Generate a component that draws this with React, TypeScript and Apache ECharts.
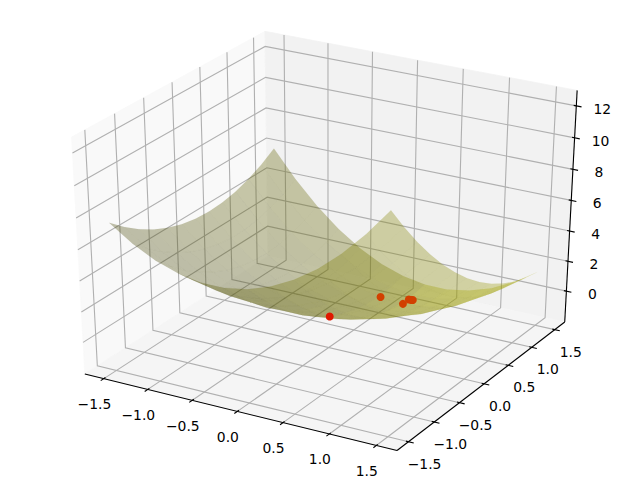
import React, { useEffect, useRef } from "react";
import * as echarts from "echarts";

const xLim = [-1.65, 1.65];
const yLim = [-1.65, 1.65];
const zLim = [-1.8, 12.66];
const xTicks = [-1.5, -1.0, -0.5, 0.0, 0.5, 1.0, 1.5];
const yTicks = [-1.5, -1.0, -0.5, 0.0, 0.5, 1.0, 1.5];
const zTicks = [0, 2, 4, 6, 8, 10, 12];

const gridX = [-1.5, -1.25, -1, -0.75, -0.5, -0.25, 0, 0.25, 0.5, 0.75, 1, 1.25, 1.5];
const gridY = [-1.5, -1.25, -1, -0.75, -0.5, -0.25, 0, 0.25, 0.5, 0.75, 1, 1.25, 1.5];
// one row per gridX value, one column per gridY value
const surfaceZ = [
  [7.5, 6.69, 6, 5.44, 5, 4.69, 4.5, 4.44, 4.5, 4.69, 5, 5.44, 6],
  [6.5, 5.63, 4.88, 4.25, 3.75, 3.38, 3.13, 3, 3, 3.13, 3.38, 3.75, 4.25],
  [5.75, 4.81, 4, 3.31, 2.75, 2.31, 2, 1.81, 1.75, 1.81, 2, 2.31, 2.75],
  [5.25, 4.25, 3.38, 2.63, 2, 1.5, 1.13, 0.88, 0.75, 0.75, 0.88, 1.13, 1.5],
  [5, 3.94, 3, 2.19, 1.5, 0.94, 0.5, 0.19, 0, -0.06, 0, 0.19, 0.5],
  [5, 3.88, 2.88, 2, 1.25, 0.63, 0.13, -0.25, -0.5, -0.63, -0.63, -0.5, -0.25],
  [5.25, 4.06, 3, 2.06, 1.25, 0.56, 0, -0.44, -0.75, -0.94, -1, -0.94, -0.75],
  [5.75, 4.5, 3.38, 2.38, 1.5, 0.75, 0.13, -0.38, -0.75, -1, -1.13, -1.13, -1],
  [6.5, 5.19, 4, 2.94, 2, 1.19, 0.5, -0.06, -0.5, -0.81, -1, -1.06, -1],
  [7.5, 6.13, 4.88, 3.75, 2.75, 1.88, 1.13, 0.5, 0, -0.38, -0.63, -0.75, -0.75],
  [8.75, 7.31, 6, 4.81, 3.75, 2.81, 2, 1.31, 0.75, 0.31, 0, -0.19, -0.25],
  [10.25, 8.75, 7.38, 6.13, 5, 4, 3.13, 2.38, 1.75, 1.25, 0.88, 0.63, 0.5],
  [12, 10.44, 9, 7.69, 6.5, 5.44, 4.5, 3.69, 3, 2.44, 2, 1.69, 1.5],
];

const pointsX = [0.012, 0.02, 0.275, 0.27, 0.3, 0.31];
const pointsY = [0.0, 1.0, 1.0, 1.13, 1.13, 1.14];
const pointsZ = [0.0, -1.0, -1.13, -1.14, -1.14, -1.14];

const AZ = (-60 * Math.PI) / 180;
const EL = (30 * Math.PI) / 180;
const DIST = 10;
const n = [Math.cos(AZ) * Math.cos(EL), Math.sin(AZ) * Math.cos(EL), Math.sin(EL)];
const uVec = [-Math.sin(AZ), Math.cos(AZ), 0];
const vVec = [n[1] * uVec[2] - n[2] * uVec[1], n[2] * uVec[0] - n[0] * uVec[2], n[0] * uVec[1] - n[1] * uVec[0]];
const dot = (a: number[], b: number[]) => a[0] * b[0] + a[1] * b[1] + a[2] * b[2];
const M = 1 / 48;

const norm = (x: number, y: number, z: number) => [
  (x - xLim[0]) / (xLim[1] - xLim[0]) - 0.5,
  (y - yLim[0]) / (yLim[1] - yLim[0]) - 0.5,
  (z - zLim[0]) / (zLim[1] - zLim[0]) - 0.5,
];
const depthOfN = (d: number[]) => DIST - dot(d, n);
const projN = (d: number[]) => {
  const w = depthOfN(d);
  const X = dot(d, uVec) / w;
  const Y = dot(d, vVec) / w;
  return [((X + 0.095) / 0.185) * 640, 480 - ((Y + 0.095) / 0.185) * 480];
};
const proj = (x: number, y: number, z: number) => projN(norm(x, y, z));

const lo = -0.5 - M;
const hi = 0.5 + M;
const txt = (v: number) => v.toFixed(1).replace("-", "\u2212");

const panes = [
  { c: "#f9f9f9", p: [[lo, lo, lo], [lo, hi, lo], [lo, hi, hi], [lo, lo, hi]] },
  { c: "#f2f2f2", p: [[lo, hi, lo], [hi, hi, lo], [hi, hi, hi], [lo, hi, hi]] },
  { c: "#f5f5f5", p: [[lo, lo, lo], [hi, lo, lo], [hi, hi, lo], [lo, hi, lo]] },
];

const makeGridLines = () => {
  const out: number[][][] = [];
  xTicks.forEach((t) => {
    const a = norm(t, 0, 0)[0];
    out.push([[a, lo, lo], [a, hi, lo], [a, hi, hi]]);
  });
  yTicks.forEach((t) => {
    const a = norm(0, t, 0)[1];
    out.push([[hi, a, lo], [lo, a, lo], [lo, a, hi]]);
  });
  zTicks.forEach((t) => {
    const a = norm(0, 0, t)[2];
    out.push([[lo, lo, a], [lo, hi, a], [hi, hi, a]]);
  });
  return out;
};

const axisLines = [
  [[lo, lo, lo], [hi, lo, lo]],
  [[hi, lo, lo], [hi, hi, lo]],
  [[hi, hi, lo], [hi, hi, hi]],
];

const T_OUT = 0.2 / 12;
const T_IN = 0.1 / 12;
const makeTicks = () => {
  const out: number[][][] = [];
  xTicks.forEach((t) => {
    const a = norm(t, 0, 0)[0];
    out.push([[a, lo - T_OUT, lo], [a, lo + T_IN, lo]]);
  });
  yTicks.forEach((t) => {
    const a = norm(0, t, 0)[1];
    out.push([[hi + T_OUT, a, lo], [hi - T_IN, a, lo]]);
  });
  zTicks.forEach((t) => {
    const a = norm(0, 0, t)[2];
    out.push([[hi + T_OUT, hi, a], [hi - T_IN, hi, a]]);
  });
  return out;
};

const makeLabels = () => {
  const out: { text: string; at: number[]; dx: number; dy: number }[] = [];
  xTicks.forEach((t) => out.push({ text: txt(t), at: [norm(t, 0, 0)[0], lo, lo], dx: -9.5, dy: 25.5 }));
  yTicks.forEach((t) => out.push({ text: txt(t), at: [hi, norm(0, t, 0)[1], lo], dx: 16, dy: 22 }));
  zTicks.forEach((t) => out.push({ text: String(t).replace("-", "\u2212"), at: [hi, hi, norm(0, 0, t)[2]], dx: 26, dy: 3 }));
  return out;
};

const makeQuads = () => {
  const L = [-0.6667, -0.6667, 0.3333];
  const quads: { pts: number[][]; depth: number; shade: number }[] = [];
  for (let i = 0; i < gridX.length - 1; i++) {
    for (let j = 0; j < gridY.length - 1; j++) {
      const corners = [
        [gridX[i], gridY[j], surfaceZ[i][j]],
        [gridX[i + 1], gridY[j], surfaceZ[i + 1][j]],
        [gridX[i + 1], gridY[j + 1], surfaceZ[i + 1][j + 1]],
        [gridX[i], gridY[j + 1], surfaceZ[i][j + 1]],
      ];
      const a = [corners[2][0] - corners[0][0], corners[2][1] - corners[0][1], corners[2][2] - corners[0][2]];
      const b = [corners[3][0] - corners[1][0], corners[3][1] - corners[1][1], corners[3][2] - corners[1][2]];
      const nn = [a[1] * b[2] - a[2] * b[1], a[2] * b[0] - a[0] * b[2], a[0] * b[1] - a[1] * b[0]];
      const len = Math.hypot(nn[0], nn[1], nn[2]);
      const nc = corners.map((c) => norm(c[0], c[1], c[2]));
      const depth = nc.reduce((s, d) => s + depthOfN(d), 0) / 4;
      quads.push({ pts: corners, depth, shade: dot(nn, L) / len });
    }
  }
  quads.sort((p, q) => q.depth - p.depth);
  return quads;
};

const BASE = [191, 191, 0];
const ALPHA = 0.33;

export default function App() {
  const ref = useRef<HTMLDivElement>(null);
  useEffect(() => {
    if (!ref.current) return;
    const chart = echarts.init(ref.current, undefined, { renderer: "svg" });
    const gridLines = makeGridLines();
    const tickMarks = makeTicks();
    const labels = makeLabels();
    const quads = makeQuads();
    const toPts = (api: any, list: number[][]) => list.map((d) => api.coord(projN(d)));

    const lineSeries = (name: string, list: number[][][], color: string, width: number) => ({
      type: "custom",
      name,
      silent: true,
      clip: false,
      data: list.map((_, i) => [i]),
      renderItem: (params: any, api: any) => ({
        type: "polyline",
        shape: { points: toPts(api, list[params.dataIndex]) },
        style: { stroke: color, lineWidth: width, fill: "none" },
      }),
    });
    const pointSeries = (name: string, idx: number[], color: string) => ({
      type: "custom",
      name,
      silent: true,
      clip: false,
      data: idx.map((i) => [pointsX[i], pointsY[i], pointsZ[i]]),
      renderItem: (params: any, api: any) => {
        const c = api.coord(proj(api.value(0), api.value(1), api.value(2)));
        return { type: "circle", shape: { cx: c[0], cy: c[1], r: 4 }, style: { fill: color } };
      },
    });

    chart.setOption({
      animation: false,
      backgroundColor: "#ffffff",
      grid: { left: 0, right: 0, top: 0, bottom: 0 },
      xAxis: { type: "value", min: 0, max: 640, show: false },
      yAxis: { type: "value", min: 0, max: 480, inverse: true, show: false },
      series: [
        {
          type: "custom",
          name: "panes",
          silent: true,
          clip: false,
          data: panes.map((_, i) => [i]),
          renderItem: (params: any, api: any) => {
            const pane = panes[params.dataIndex];
            return {
              type: "polygon",
              shape: { points: toPts(api, pane.p) },
              style: { fill: pane.c, stroke: pane.c, lineWidth: 0.8 },
            };
          },
        },
        lineSeries("grid", gridLines, "#b0b0b0", 1.11),
        lineSeries("axes", axisLines, "#000000", 1.11),
        lineSeries("ticks", tickMarks, "#000000", 1.11),
        {
          type: "custom",
          name: "surface",
          silent: true,
          clip: false,
          data: quads.map((_, i) => [i]),
          renderItem: (params: any, api: any) => {
            const q = quads[params.dataIndex];
            const f = 0.3 + (0.7 * (q.shade + 1)) / 2;
            const col = `rgba(${Math.round(BASE[0] * f)},${Math.round(BASE[1] * f)},${Math.round(BASE[2] * f)},${ALPHA})`;
            return {
              type: "polygon",
              shape: { points: q.pts.map((p) => api.coord(proj(p[0], p[1], p[2]))) },
              style: { fill: col, stroke: col, lineWidth: 0.08 },
            };
          },
        },
        pointSeries("later points", [1, 2, 3, 4, 5], "#d24000"),
        pointSeries("first point", [0], "#e01800"),
        {
          type: "custom",
          name: "tick labels",
          silent: true,
          clip: false,
          data: labels.map((_, i) => [i]),
          renderItem: (params: any, api: any) => {
            const l = labels[params.dataIndex];
            const c = api.coord(projN(l.at));
            return {
              type: "text",
              x: c[0] + l.dx,
              y: c[1] + l.dy,
              style: {
                text: l.text,
                fill: "#000000",
                font: '13.9px "DejaVu Sans"',
                align: "center",
                verticalAlign: "middle",
              },
            };
          },
        },
      ],
    });
    return () => chart.dispose();
  }, []);
  return <div ref={ref} style={{ position: "fixed", left: 0, top: 0, width: 640, height: 480 }} />;
}
